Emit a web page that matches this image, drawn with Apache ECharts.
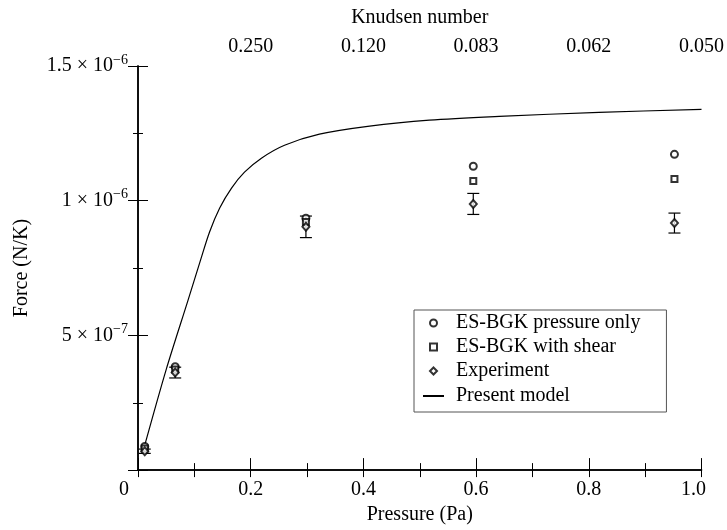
<!DOCTYPE html>
<html>
<head>
<meta charset="utf-8">
<script src="https://cdn.jsdelivr.net/npm/echarts@6/dist/echarts.min.js"></script>
<style>
  html, body { margin: 0; padding: 0; background: #fff; }
  #chart { width: 727px; height: 530px; }
</style>
</head>
<body>
<div id="chart"></div>
<script>
// measured points (pressure in Pa, force in N/K)
const pressure = [0.012, 0.066, 0.298, 0.595, 0.952];
const pressureOnly = [0.88e-7, 3.84e-7, 9.35e-7, 11.28e-7, 11.72e-7];
const withShear = [0.80e-7, 3.73e-7, 9.21e-7, 10.73e-7, 10.81e-7];
const experiment = [0.70e-7, 3.62e-7, 9.03e-7, 9.88e-7, 9.17e-7];
const expError = [0.08e-7, 0.2e-7, 0.4e-7, 0.39e-7, 0.37e-7];

// present model curve
const modelP = [0.011, 0.05, 0.089, 0.11, 0.127, 0.145, 0.166, 0.189, 0.219, 0.26, 0.322, 0.411, 0.517, 0.641, 0.818, 1.0];
const modelF = [0.85e-7, 3.73e-7, 6.32e-7, 7.73e-7, 8.84e-7, 9.73e-7, 10.47e-7, 11.06e-7, 11.58e-7, 12.06e-7, 12.47e-7, 12.77e-7, 12.99e-7, 13.13e-7, 13.28e-7, 13.39e-7];

// top axis (Knudsen number) labels at pressure positions
const knPos = [0.2, 0.4, 0.6, 0.8, 1.0];
const knLabels = ['0.250', '0.120', '0.083', '0.062', '0.050'];

// y tick labels
const yTickVals = [5e-7, 1e-6, 1.5e-6];
const yTickMant = ['5', '1', '1.5'];
const yTickExp = ['\u22127', '\u22126', '\u22126'];

const FONT = 'Liberation Serif';
const zip = (xs, ys) => xs.map((x, i) => [x, ys[i]]);

const chart = echarts.init(document.getElementById('chart'));

const tickStyle = { color: '#000', width: 1 };
const legendText = { fontFamily: FONT, fontSize: 20, color: '#000', lineHeight: 20 };

const option = {
    animation: false,
    backgroundColor: '#fff',
    textStyle: { fontFamily: FONT, color: '#000' },
    grid: { left: 138, right: 24, top: 66, bottom: 58 },
    legend: [{
        // markers, box drawn big enough to hold the line entry below
        data: ['ES-BGK pressure only', 'ES-BGK with shear', 'Experiment'],
        orient: 'vertical',
        left: 414,
        top: 310,
        padding: [3, 26, 31, 15],
        itemGap: 4,
        itemWidth: 7,
        itemHeight: 7,
        borderColor: '#555',
        borderWidth: 1,
        textStyle: Object.assign({ padding: [0, 0, 0, 14] }, legendText)
    }, {
        data: [{
            name: 'Present model',
            itemStyle: { color: 'rgba(0,0,0,0)', borderColor: 'rgba(0,0,0,0)', borderWidth: 0 }
        }],
        orient: 'vertical',
        left: 422,
        top: 386,
        padding: 0,
        itemWidth: 21,
        itemHeight: 2,
        textStyle: Object.assign({ padding: [0, 0, 0, 7] }, legendText)
    }],
    xAxis: [{
        type: 'value',
        min: 0,
        max: 1,
        interval: 0.2,
        name: 'Pressure (Pa)',
        nameLocation: 'middle',
        nameGap: 33,
        nameTextStyle: { fontFamily: FONT, fontSize: 20, color: '#000' },
        axisLine: { onZero: false, lineStyle: { color: '#000', width: 1.5 } },
        axisTick: { inside: true, length: 12, lineStyle: tickStyle },
        minorTick: { show: true, splitNumber: 2, length: 7, lineStyle: tickStyle },
        splitLine: { show: false },
        axisLabel: {
            fontFamily: FONT, fontSize: 20, color: '#000', margin: 10,
            showMinLabel: true, showMaxLabel: true,
            formatter: v => {
                if (v < 1e-9) return '{l|0}';
                if (Math.abs(v - 1) < 1e-9) return '{r|1.0}';
                return v.toFixed(1);
            },
            rich: {
                l: { fontFamily: FONT, fontSize: 20, color: '#000', padding: [0, 28, 0, 0] },
                r: { fontFamily: FONT, fontSize: 20, color: '#000', padding: [0, 16, 0, 0] }
            }
        }
    }, {
        type: 'value',
        position: 'top',
        min: 0,
        max: 1,
        interval: 0.1,
        name: 'Knudsen number',
        nameLocation: 'middle',
        nameGap: 38,
        nameTextStyle: { fontFamily: FONT, fontSize: 20, color: '#000' },
        axisLine: { lineStyle: { color: '#000', width: 1.5 } },
        axisTick: { inside: true, length: 7, lineStyle: tickStyle },
        splitLine: { show: false },
        axisLabel: {
            fontFamily: FONT, fontSize: 20, color: '#000', margin: 9,
            showMinLabel: true, showMaxLabel: true,
            formatter: v => {
                const i = knPos.findIndex(p => Math.abs(p - v) < 1e-6);
                return i >= 0 ? knLabels[i] : '';
            }
        }
    }],
    yAxis: [{
        type: 'value',
        min: 0,
        max: 1.5e-6,
        interval: 5e-7,
        name: 'Force (N/K)',
        nameLocation: 'middle',
        nameGap: 106,
        nameTextStyle: { fontFamily: FONT, fontSize: 20, color: '#000' },
        axisLine: { lineStyle: { color: '#000', width: 1.5 } },
        axisTick: { inside: true, length: 10, lineStyle: tickStyle },
        minorTick: { show: true, splitNumber: 2, length: 5, lineStyle: tickStyle },
        splitLine: { show: false },
        axisLabel: {
            margin: 10,
            showMaxLabel: true,
            formatter: v => {
                const i = yTickVals.findIndex(t => Math.abs(t - v) < 1e-12);
                return i >= 0 ? '{m|' + yTickMant[i] + ' \u00d7 10}{e|' + yTickExp[i] + '}' : '';
            },
            rich: {
                m: { fontFamily: FONT, fontSize: 20, color: '#000' },
                e: { fontFamily: FONT, fontSize: 14, color: '#000', padding: [0, 0, 12, 0] }
            }
        }
    }, {
        type: 'value',
        position: 'right',
        min: 0,
        max: 1.5e-6,
        interval: 5e-7,
        axisLine: { show: true, lineStyle: { color: '#000', width: 1.5 } },
        axisTick: { inside: true, length: 10, lineStyle: tickStyle },
        minorTick: { show: true, splitNumber: 2, length: 5, lineStyle: tickStyle },
        splitLine: { show: false },
        axisLabel: { show: false }
    }],
    series: [{
        name: 'Present model',
        type: 'line',
        data: zip(modelP, modelF),
        symbol: 'none',
        smooth: 0.3,
        lineStyle: { color: '#000', width: 1.2 },
        itemStyle: { color: '#000' },
        z: 2
    }, {
        name: 'errorbars',
        type: 'custom',
        data: pressure.map((p, i) => [p, experiment[i] - expError[i], experiment[i] + expError[i]]),
        renderItem: (params, api) => {
            const lo = api.coord([api.value(0), api.value(1)]);
            const hi = api.coord([api.value(0), api.value(2)]);
            const cap = 6;
            const style = { stroke: '#000', lineWidth: 1.2 };
            return {
                type: 'group',
                children: [
                    { type: 'line', shape: { x1: lo[0], y1: lo[1], x2: hi[0], y2: hi[1] }, style },
                    { type: 'line', shape: { x1: lo[0] - cap, y1: lo[1], x2: lo[0] + cap, y2: lo[1] }, style },
                    { type: 'line', shape: { x1: hi[0] - cap, y1: hi[1], x2: hi[0] + cap, y2: hi[1] }, style }
                ]
            };
        },
        z: 3
    }, {
        name: 'ES-BGK pressure only',
        type: 'scatter',
        data: zip(pressure, pressureOnly),
        symbol: 'emptyCircle',
        symbolSize: 7,
        itemStyle: { color: '#000', borderColor: '#000', borderWidth: 1 },
        z: 4
    }, {
        name: 'ES-BGK with shear',
        type: 'scatter',
        data: zip(pressure, withShear),
        symbol: 'emptyRect',
        symbolSize: 6,
        itemStyle: { color: '#000', borderColor: '#000', borderWidth: 1 },
        z: 4
    }, {
        name: 'Experiment',
        type: 'scatter',
        data: zip(pressure, experiment),
        symbol: 'emptyDiamond',
        symbolSize: [7, 8],
        itemStyle: { color: '#000', borderColor: '#000', borderWidth: 1 },
        z: 5
    }]
};

chart.setOption(option);
</script>
</body>
</html>
